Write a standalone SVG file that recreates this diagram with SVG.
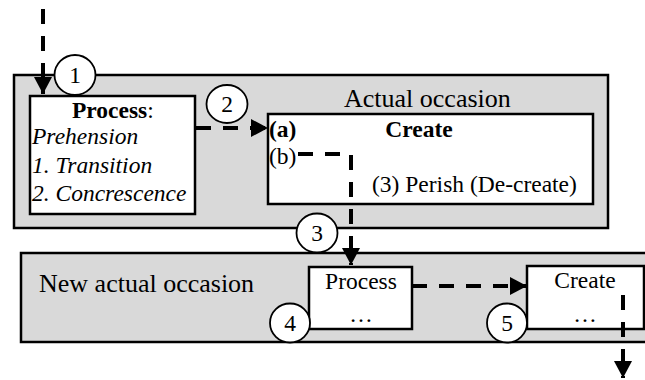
<svg xmlns="http://www.w3.org/2000/svg" width="645" height="380" viewBox="0 0 645 380">
<style>
.t{font-family:"Liberation Serif","Times New Roman",serif;fill:#000}
.big{font-size:26px}
.md{font-size:23.5px}
.b{font-weight:bold}
.i{font-style:italic}
.grp{fill:#d9d9d9;stroke:#000;stroke-width:2.5}
.box{fill:#fff;stroke:#000;stroke-width:2.5}
.num{fill:#fff;stroke:#000;stroke-width:1.8}
.dash{fill:none;stroke:#000;stroke-width:4;stroke-dasharray:15 12}
</style>
<defs>
<marker id="ah" markerUnits="userSpaceOnUse" markerWidth="18" markerHeight="18" viewBox="0 0 18 18" refX="17" refY="9" orient="auto">
<path d="M0,0 L17,9 L0,18 Z" fill="#000"/>
</marker>
</defs>
<g id="actual-occasion">
<rect class="grp" x="14" y="75" width="594" height="153"/>
<text class="t big" x="344" y="107">Actual occasion</text>
</g>
<g id="new-actual-occasion">
<rect class="grp" x="21" y="253" width="632" height="89"/>
<text class="t big" x="39" y="292">New actual occasion</text>
</g>
<g id="process-box">
<rect class="box" x="30" y="96" width="165" height="118"/>
<text class="t md" x="72" y="118"><tspan class="b">Process</tspan>:</text>
<text class="t md i" x="32" y="144">Prehension</text>
<text class="t md i" x="32" y="173">1. Transition</text>
<text class="t md i" x="32" y="201">2. Concrescence</text>
</g>
<g id="create-box">
<rect class="box" x="268" y="114" width="325" height="90"/>
<text class="t md b" x="269" y="137">(a)</text>
<text class="t md b" x="419" y="137" text-anchor="middle">Create</text>
<text class="t md" x="269" y="164">(b)</text>
<text class="t md" x="372" y="192">(3) Perish (De-create)</text>
</g>
<g id="process2">
<rect class="box" x="309" y="267" width="103" height="62"/>
<text class="t md" x="361" y="289" text-anchor="middle">Process</text>
<text class="t md" x="361" y="322" text-anchor="middle">…</text>
</g>
<g id="create2">
<rect class="box" x="527" y="266" width="117" height="63"/>
<text class="t md" x="585" y="288" text-anchor="middle">Create</text>
<text class="t md" x="585" y="322" text-anchor="middle">…</text>
</g>
<g id="connectors">
<path class="dash" d="M43,9 V94" marker-end="url(#ah)"/>
<path class="dash" d="M196,128 H268" marker-end="url(#ah)"/>
<path class="dash" d="M298,154 H351 V265" marker-end="url(#ah)"/>
<path class="dash" d="M412,286 H527" marker-end="url(#ah)"/>
<path class="dash" d="M623,295 V378" marker-end="url(#ah)"/>
</g>
<g id="n1"><ellipse class="num" cx="75" cy="75" rx="20.5" ry="20"/><text class="t md" x="75" y="83" text-anchor="middle">1</text></g>
<g id="n2"><ellipse class="num" cx="227" cy="104" rx="20.5" ry="19"/><text class="t md" x="227" y="112" text-anchor="middle">2</text></g>
<g id="n3"><ellipse class="num" cx="317" cy="233" rx="20.5" ry="19.5"/><text class="t md" x="317" y="241" text-anchor="middle">3</text></g>
<g id="n4"><ellipse class="num" cx="290" cy="323" rx="20" ry="19.5"/><text class="t md" x="290" y="331" text-anchor="middle">4</text></g>
<g id="n5"><ellipse class="num" cx="507" cy="323" rx="20" ry="19.5"/><text class="t md" x="507" y="331" text-anchor="middle">5</text></g>
</svg>
